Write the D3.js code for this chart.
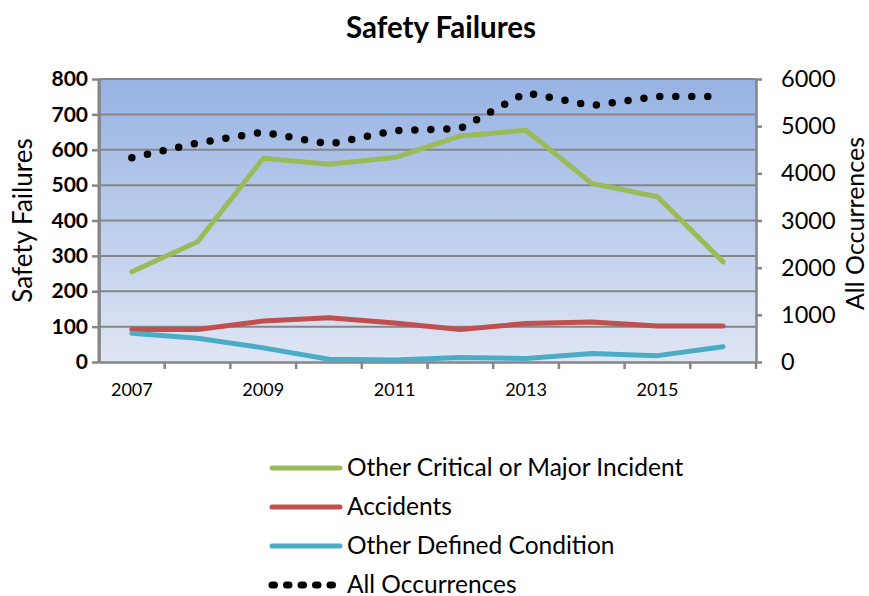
<!DOCTYPE html>
<html>
<head>
<meta charset="utf-8">
<script src="https://cdn.jsdelivr.net/npm/d3@7"></script>
<style>
  body { margin: 0; background: #fff; }
  svg { display: block; font-family: Lato, "Open Sans", sans-serif; }
</style>
</head>
<body>
<script>
// values
var years = [2007, 2008, 2009, 2010, 2011, 2012, 2013, 2014, 2015, 2016];
var yearLabels = [2007, 2009, 2011, 2013, 2015];
var critical = [255, 340, 576, 559, 578, 639, 655, 505, 467, 283];
var accidents = [92, 92, 116, 125, 110, 92, 109, 113, 102, 102];
var defined = [81, 67, 40, 8, 6, 13, 10, 24, 18, 43];
var allOcc = [4330, 4640, 4875, 4620, 4905, 4950, 5710, 5435, 5630, 5630];
var leftTicks = [0, 100, 200, 300, 400, 500, 600, 700, 800];
var rightTicks = [0, 1000, 2000, 3000, 4000, 5000, 6000];

var series = [
  { name: "Other Critical or Major Incident", values: critical, color: "#9bbb59" },
  { name: "Accidents", values: accidents, color: "#c0504d" },
  { name: "Other Defined Condition", values: defined, color: "#4bacc6" }
];

var width = 869, height = 596;
var pL = 99, pR = 756, pT = 79, pB = 362;

var svg = d3.select("body").append("svg")
  .attr("width", width)
  .attr("height", height);

var x = d3.scaleBand().domain(years).range([pL, pR]).padding(0);
var yL = d3.scaleLinear().domain([0, 800]).range([pB, pT]);
var yR = d3.scaleLinear().domain([0, 6000]).range([pB, pT]);
var cx = function(d, i) { return x(years[i]) + x.bandwidth() / 2; };

// plot background
var grad = svg.append("defs").append("linearGradient")
  .attr("id", "bg").attr("x1", 0).attr("y1", 0).attr("x2", 0).attr("y2", 1);
grad.append("stop").attr("offset", "0%").attr("stop-color", "#97b3e3");
grad.append("stop").attr("offset", "100%").attr("stop-color", "#dfe6f4");

svg.append("rect")
  .attr("x", pL).attr("y", pT)
  .attr("width", pR - pL).attr("height", pB - pT)
  .attr("fill", "url(#bg)");

// gridlines
svg.selectAll(".grid")
  .data(leftTicks.slice(1))
  .enter().append("line")
  .attr("x1", pL).attr("x2", pR)
  .attr("y1", function(d) { return yL(d); })
  .attr("y2", function(d) { return yL(d); })
  .attr("stroke", "#868686")
  .attr("stroke-width", 2);

// left axis
var axL = svg.append("g").attr("transform", "translate(" + pL + ",0)")
  .call(d3.axisLeft(yL).tickValues(leftTicks).tickSize(7).tickPadding(4).tickSizeOuter(0));
axL.selectAll("text").attr("font-size", "21px").attr("font-weight", "bold")
  .attr("font-family", "Lato").attr("fill", "#000");

// right axis
var axR = svg.append("g").attr("transform", "translate(" + pR + ",0)")
  .call(d3.axisRight(yR).tickValues(rightTicks).tickFormat(d3.format("d"))
    .tickSize(6).tickPadding(19).tickSizeOuter(0));
axR.selectAll("text").attr("font-size", "23.5px")
  .attr("font-family", "Lato").attr("fill", "#000");

// bottom axis, ticks on band edges
var axB = svg.append("g").attr("transform", "translate(0," + pB + ")")
  .call(d3.axisBottom(x).tickValues([]).tickSizeOuter(0));
axB.selectAll(".edge")
  .data(years)
  .enter().append("line")
  .attr("class", "edge")
  .attr("x1", function(d) { return x(d) + x.bandwidth(); })
  .attr("x2", function(d) { return x(d) + x.bandwidth(); })
  .attr("y1", 0).attr("y2", 7);
axB.selectAll(".lab")
  .data(yearLabels)
  .enter().append("text")
  .attr("class", "lab")
  .attr("x", function(d) { return x(d) + x.bandwidth() / 2; })
  .attr("y", 34)
  .attr("text-anchor", "middle")
  .attr("font-size", "18px")
  .attr("font-family", "Lato")
  .attr("fill", "#000")
  .text(function(d) { return d; });

svg.selectAll(".domain, .tick line, .edge")
  .attr("stroke", "#868686")
  .attr("stroke-width", 2.5);

// left axis line (drawn over background)
svg.append("line")
  .attr("x1", pL).attr("x2", pL).attr("y1", pT).attr("y2", pB + 1)
  .attr("stroke", "#868686").attr("stroke-width", 3);

// lines
var line = d3.line()
  .x(cx)
  .y(function(d) { return yL(d); });

svg.selectAll(".series")
  .data(series)
  .enter().append("path")
  .attr("d", function(s) { return line(s.values); })
  .attr("fill", "none")
  .attr("stroke", function(s) { return s.color; })
  .attr("stroke-width", 5)
  .attr("stroke-linejoin", "round")
  .attr("stroke-linecap", "round");

var lineR = d3.line()
  .x(cx)
  .y(function(d) { return yR(d); });

svg.append("path")
  .attr("d", lineR(allOcc))
  .attr("fill", "none")
  .attr("stroke", "#000")
  .attr("stroke-width", 7.5)
  .attr("stroke-linecap", "round")
  .attr("stroke-dasharray", "0,16");

// titles
svg.append("text")
  .attr("x", 441).attr("y", 38)
  .attr("text-anchor", "middle")
  .attr("font-size", "29.5px")
  .attr("font-weight", "bold")
  .text("Safety Failures");

svg.append("text")
  .attr("transform", "translate(32," + (pT + pB) / 2 + ") rotate(-90)")
  .attr("text-anchor", "middle")
  .attr("font-size", "26px")
  .text("Safety Failures");

svg.append("text")
  .attr("transform", "translate(864," + ((pT + pB) / 2 + 3) + ") rotate(-90)")
  .attr("text-anchor", "middle")
  .attr("font-size", "25px")
  .text("All Occurrences");

// legend
var legendItems = series.concat([{ name: "All Occurrences", color: "#000", dotted: true }]);
var lg = svg.selectAll(".legend")
  .data(legendItems)
  .enter().append("g")
  .attr("transform", function(d, i) { return "translate(270," + (468 + i * 39) + ")"; });

lg.append("line")
  .attr("x1", 2).attr("x2", 70)
  .attr("stroke", function(d) { return d.color; })
  .attr("stroke-width", function(d) { return d.dotted ? 7 : 5; })
  .attr("stroke-linecap", "round")
  .attr("stroke-dasharray", function(d) { return d.dotted ? "2.5,12" : null; });

lg.append("text")
  .attr("x", 77).attr("y", 7.5)
  .attr("font-size", "24.5px")
  .text(function(d) { return d.name; });
</script>
</body>
</html>
